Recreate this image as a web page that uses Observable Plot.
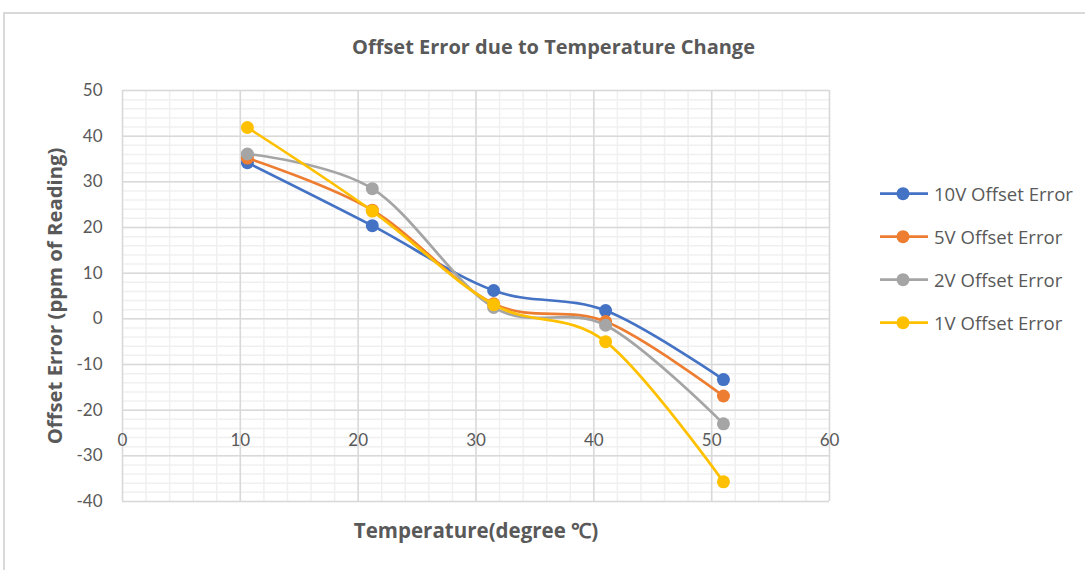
<!DOCTYPE html>
<html>
<head>
<meta charset="utf-8">
<script src="https://cdn.jsdelivr.net/npm/d3@7"></script>
<script src="https://cdn.jsdelivr.net/npm/@observablehq/plot@0.6"></script>
<style>
  body { margin: 0; background: #fff; font-family: "Open Sans", Lato, sans-serif; }
  #wrap { position: relative; width: 1085px; height: 570px; overflow: hidden; background: #fff; }
  #frame { position: absolute; left: 3px; top: 12px; width: 1200px; height: 700px; border: 2px solid #d9d9d9; box-sizing: border-box; }
  #title { position: absolute; top: 47px; left: 553.5px; transform: translate(-50%, -50%); white-space: nowrap;
           font-weight: bold; color: #595959; line-height: 1; }
  #legend { position: absolute; left: 880px; top: 0; }
  .item { position: absolute; left: 0; display: flex; align-items: center; white-space: nowrap;
          color: #595959; transform: translateY(-50%); line-height: 1; }
  .item svg { margin-right: 6px; }
  #chart { position: absolute; left: 0; top: 0; }
</style>
</head>
<body>
<div id="wrap">
  <div id="frame"></div>
  <div id="chart"></div>
  <div id="title"></div>
  <div id="legend"></div>
</div>
<script>
// ---- data ----
const titleText = "Offset Error due to Temperature Change";
const xTitle = "Temperature(degree \u2103)";
const yTitle = "Offset Error (ppm of Reading)";
const temperature = [10.6, 21.2, 31.5, 41.0, 51.0];
const seriesNames = ["10V Offset Error", "5V Offset Error", "2V Offset Error", "1V Offset Error"];
const err10V = [34.2, 20.4, 6.2, 1.8, -13.3];
const err5V  = [35.2, 23.8, 3.3, -0.6, -16.9];
const err2V  = [36.1, 28.5, 2.5, -1.4, -23.0];
const err1V  = [41.9, 23.6, 3.1, -5.0, -35.7];
const seriesColors = ["#4472C4", "#ED7D31", "#A5A5A5", "#FFC000"];
const xTicks = [0, 10, 20, 30, 40, 50, 60];
const yTicks = [-40, -30, -20, -10, 0, 10, 20, 30, 40, 50];
const xMinorTicks = d3.range(0, 61, 2);
const yMinorTicks = d3.range(-40, 51, 2);
const xAxisCross = -20;

// ---- table ----
const values = [err10V, err5V, err2V, err1V];
const data = [];
seriesNames.forEach((s, i) => {
  temperature.forEach((t, j) => data.push({ series: s, temperature: t, value: values[i][j] }));
});

const textColor = "#595959";
const fam = "'Open Sans'";
const ctx = document.createElement("canvas").getContext("2d");
function fitSize(text, weight, target) {
  ctx.font = `${weight} 100px ${fam}`;
  return 100 * target / ctx.measureText(text).width;
}
const titleSize = fitSize(titleText, "bold", 403);
const xTitleSize = fitSize(xTitle, "bold", 245);
const yTitleSize = fitSize(yTitle, "bold", 297);
const legendSize = fitSize(seriesNames[0], "normal", 139);

const chart = Plot.plot({
  width: 1085,
  height: 570,
  marginLeft: 122,
  marginRight: 256,
  marginTop: 90,
  marginBottom: 69,
  style: { fontFamily: "Lato, 'Open Sans', sans-serif", background: "transparent", overflow: "visible" },
  x: { domain: [0, 60], axis: null },
  y: { domain: [-40, 50], axis: null },
  color: { domain: seriesNames, range: seriesColors },
  marks: [
    Plot.gridX(xMinorTicks, { stroke: "#f0f0f0", strokeOpacity: 1, strokeWidth: 1.5 }),
    Plot.gridY(yMinorTicks, { stroke: "#f0f0f0", strokeOpacity: 1, strokeWidth: 1.5 }),
    Plot.gridX(xTicks, { stroke: "#d9d9d9", strokeOpacity: 1, strokeWidth: 1.5 }),
    Plot.gridY(yTicks, { stroke: "#d9d9d9", strokeOpacity: 1, strokeWidth: 1.5 }),
    Plot.axisY(yTicks, { tickSize: 0, tickPadding: 20, fontSize: 17, color: textColor, label: null, tickFormat: d => String(d) }),
    Plot.text(xTicks, { x: d => d, y: () => xAxisCross, dy: 30, text: d => String(d), fontSize: 17, fill: textColor }),
    Plot.text([yTitle], { frameAnchor: "left", textAnchor: "middle", lineAnchor: "middle", rotate: -90, dx: -67, text: d => d,
      fontSize: yTitleSize, fontWeight: "bold", fill: textColor, fontFamily: fam }),
    Plot.text([xTitle], { frameAnchor: "bottom", textAnchor: "middle", lineAnchor: "middle", dy: 30, text: d => d,
      fontSize: xTitleSize, fontWeight: "bold", fill: textColor, fontFamily: fam }),
    ...seriesNames.flatMap(s => [
      Plot.line(data.filter(d => d.series === s), { x: "temperature", y: "value", stroke: "series", strokeWidth: 2.7, curve: "cardinal" }),
      Plot.dot(data.filter(d => d.series === s), { x: "temperature", y: "value", fill: "series", r: 6.5, stroke: "none" })
    ])
  ]
});
document.getElementById("chart").appendChild(chart);
const titleEl = document.getElementById("title");
titleEl.textContent = titleText;
titleEl.style.fontSize = titleSize + "px";

// legend
const legendY = [194, 237, 280, 323];
const legend = document.getElementById("legend");
seriesNames.forEach((s, i) => {
  const div = document.createElement("div");
  div.className = "item";
  div.style.top = legendY[i] + "px";
  div.style.fontSize = legendSize + "px";
  div.innerHTML = `<svg width="48" height="16"><line x1="0" x2="48" y1="8" y2="8" stroke="${seriesColors[i]}" stroke-width="2.7"/><circle cx="23" cy="8" r="6.5" fill="${seriesColors[i]}"/></svg><span>${s}</span>`;
  legend.appendChild(div);
});
</script>
</body>
</html>
